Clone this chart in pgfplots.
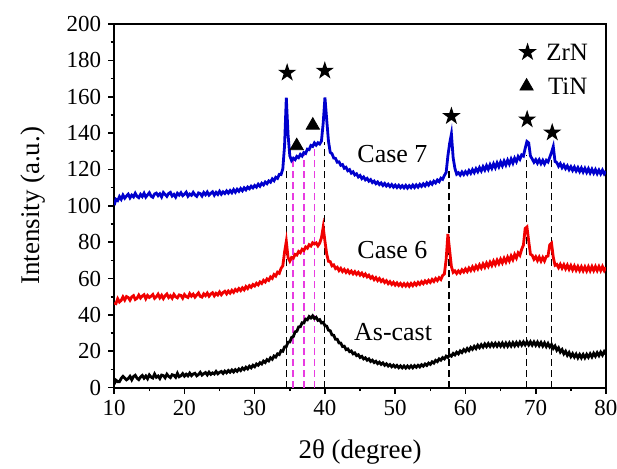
\documentclass[border=0pt]{standalone}
\usepackage{fontspec}
\setmainfont{Liberation Serif}
\usepackage{pgfplots}
\usepackage{pgfplotstable}
\pgfplotsset{compat=1.18}
\definecolor{cblue}{RGB}{0,0,205}
\definecolor{cred}{RGB}{240,0,0}
\definecolor{cmag}{RGB}{232,60,225}

\pgfdeclareplotmark{fstar}{%
  \pgfpathmoveto{\pgfpointpolar{90}{\pgfplotmarksize}}%
  \pgfpathlineto{\pgfpointpolar{126}{0.382\pgfplotmarksize}}%
  \pgfpathlineto{\pgfpointpolar{162}{\pgfplotmarksize}}%
  \pgfpathlineto{\pgfpointpolar{198}{0.382\pgfplotmarksize}}%
  \pgfpathlineto{\pgfpointpolar{234}{\pgfplotmarksize}}%
  \pgfpathlineto{\pgfpointpolar{270}{0.382\pgfplotmarksize}}%
  \pgfpathlineto{\pgfpointpolar{306}{\pgfplotmarksize}}%
  \pgfpathlineto{\pgfpointpolar{342}{0.382\pgfplotmarksize}}%
  \pgfpathlineto{\pgfpointpolar{18}{\pgfplotmarksize}}%
  \pgfpathlineto{\pgfpointpolar{54}{0.382\pgfplotmarksize}}%
  \pgfpathclose\pgfusepathqfill}

% x, As-cast, Case 6, Case 7
\pgfplotstableread{
x a b c
10.00 1.9 46.5 100.4
10.25 4.1 46.2 103.6
10.50 3.3 48.9 102.9
10.75 3.3 47.1 105.1
11.00 5.1 48.0 103.6
11.25 6.2 49.9 105.9
11.50 5.2 48.2 104.2
11.75 4.3 50.1 105.4
12.00 5.0 49.6 106.4
12.25 6.2 48.1 104.4
12.50 4.3 49.9 105.9
12.75 6.1 50.6 104.9
13.00 6.8 48.5 106.9
13.25 5.2 49.2 105.2
13.50 4.4 50.9 104.5
13.75 5.8 49.3 106.3
14.00 6.7 50.4 105.1
14.25 5.2 51.1 106.9
14.50 6.4 48.9 104.8
14.75 4.9 50.7 106.0
15.00 7.0 49.6 107.2
15.25 5.8 50.3 105.3
15.50 5.3 51.2 104.7
15.75 7.5 49.1 106.5
16.00 5.7 50.0 107.0
16.25 6.4 51.4 105.6
16.50 5.0 49.4 106.6
16.75 6.9 50.8 104.9
17.00 6.6 49.0 107.3
17.25 5.4 50.5 106.2
17.50 7.4 51.5 105.2
17.75 6.2 49.6 106.8
18.00 5.5 50.6 107.4
18.25 7.1 49.2 105.4
18.50 6.8 51.3 106.3
18.75 5.7 50.0 104.8
19.00 7.9 49.4 106.9
19.25 6.0 51.0 105.9
19.50 6.5 50.7 107.2
19.75 7.7 49.2 105.6
20.00 6.3 51.2 106.4
20.25 7.4 50.1 107.5
20.50 6.5 49.6 105.3
20.75 8.0 51.7 106.5
21.00 6.6 50.3 105.8
21.25 7.5 51.4 107.4
21.50 7.9 49.8 106.0
21.75 6.5 51.0 105.2
22.00 7.2 52.1 107.1
22.25 8.4 50.2 106.7
22.50 6.9 49.8 105.4
22.75 7.7 51.6 107.3
23.00 8.3 50.6 106.1
23.25 7.0 52.0 107.6
23.50 8.5 50.3 105.9
23.75 7.3 51.5 106.9
24.00 8.1 52.2 107.7
24.25 7.5 50.5 105.9
24.50 8.9 51.9 107.4
24.75 7.6 51.0 106.3
25.00 8.4 52.6 108.0
25.25 8.9 51.1 106.4
25.50 7.8 52.3 107.7
25.75 9.1 53.0 106.8
26.00 8.2 51.6 108.2
26.25 9.4 53.1 107.0
26.50 8.5 52.0 108.4
26.75 9.7 53.5 107.2
27.00 8.6 52.4 108.9
27.25 9.9 54.0 107.5
27.50 9.0 53.1 109.1
27.75 10.3 54.5 108.0
28.00 9.4 53.4 109.5
28.25 10.8 54.9 108.3
28.50 9.9 53.8 109.9
28.75 11.2 55.6 108.8
29.00 10.3 54.5 110.3
29.25 11.8 56.1 109.4
29.50 10.9 55.2 110.8
29.75 12.3 56.7 109.9
30.00 11.5 55.9 111.2
30.25 13.0 57.4 110.3
30.50 12.3 56.5 111.9
30.75 13.7 58.1 110.8
31.00 13.0 57.3 112.4
31.25 14.6 59.0 111.5
31.50 13.8 58.1 113.1
31.75 15.4 59.8 112.2
32.00 14.7 59.0 113.7
32.25 16.4 60.9 113.0
32.50 15.6 60.1 114.8
32.75 17.4 62.2 113.8
33.00 16.8 61.4 115.7
33.25 18.6 63.5 115.1
33.50 18.2 62.9 117.3
33.75 20.3 65.6 117.2
34.00 20.0 67.0 120.3
34.25 22.4 74.5 133.0
34.50 22.6 80.5 159.5
34.75 25.0 71.5 139.0
35.00 25.1 69.6 127.5
35.25 27.6 71.6 124.9
35.50 28.1 71.2 126.2
35.75 30.7 73.3 125.4
36.00 31.0 72.9 127.2
36.25 33.4 74.9 126.5
36.50 33.5 74.2 128.3
36.75 35.7 76.1 127.4
37.00 35.6 75.4 129.3
37.25 37.7 77.4 128.8
37.50 37.3 76.7 131.2
37.75 39.1 78.6 130.9
38.00 38.3 77.9 133.2
38.25 39.5 79.7 132.7
38.50 38.0 79.0 134.6
38.75 38.7 79.6 133.4
39.00 37.0 78.0 134.7
39.25 37.4 79.5 134.0
39.50 35.6 82.4 135.6
39.75 35.9 88.3 145.5
40.00 34.1 80.5 159.6
40.25 33.8 73.5 147.4
40.50 31.6 69.5 135.6
40.75 31.3 69.3 129.4
41.00 29.0 67.0 128.7
41.25 28.8 67.5 126.3
41.50 26.6 65.5 126.1
41.75 26.6 66.2 124.0
42.00 24.6 64.4 124.2
42.25 24.5 65.6 122.3
42.50 22.6 63.9 122.7
42.75 22.8 65.0 120.7
43.00 20.9 63.4 121.2
43.25 21.3 64.6 119.3
43.50 19.8 63.0 119.9
43.75 20.2 64.1 118.0
44.00 18.6 62.6 118.7
44.25 19.1 63.8 117.0
44.50 17.6 62.3 117.6
44.75 18.1 63.4 115.9
45.00 16.6 61.9 116.7
45.25 17.2 63.0 115.0
45.50 15.8 61.4 115.9
45.75 16.4 62.5 114.3
46.00 15.1 60.9 115.1
46.25 15.8 61.8 113.6
46.50 14.4 60.2 114.4
46.75 15.1 61.1 112.8
47.00 13.8 59.4 113.6
47.25 14.5 60.5 112.2
47.50 13.2 58.9 113.1
47.75 14.0 60.0 111.7
48.00 12.8 58.4 112.6
48.25 13.6 59.4 111.2
48.50 12.3 57.8 112.3
48.75 13.1 58.8 110.9
49.00 11.9 57.2 111.9
49.25 12.7 58.3 110.6
49.50 11.5 56.8 111.7
49.75 12.4 57.9 110.3
50.00 11.3 56.4 111.4
50.25 12.2 57.6 110.1
50.50 11.0 56.2 111.3
50.75 12.0 57.3 110.0
51.00 10.9 55.9 111.1
51.25 11.9 57.2 109.9
51.50 10.8 55.9 111.2
51.75 11.9 57.2 109.8
52.00 10.9 55.8 111.1
52.25 12.0 57.3 110.0
52.50 10.9 56.1 111.4
52.75 12.1 57.6 110.1
53.00 11.2 56.4 111.5
53.25 12.3 57.9 110.3
53.50 11.4 56.8 111.8
53.75 12.6 58.3 110.7
54.00 11.8 57.2 112.1
54.25 13.0 58.7 111.0
54.50 12.2 57.6 112.6
54.75 13.5 59.0 111.4
55.00 12.8 57.9 113.0
55.25 14.2 59.5 111.9
55.50 13.5 58.4 113.6
55.75 15.0 60.0 112.6
56.00 14.3 58.9 114.2
56.25 15.8 60.5 113.3
56.50 15.1 59.5 115.2
56.75 16.5 61.7 114.6
57.00 15.8 62.5 116.7
57.25 17.3 70.5 118.4
57.50 16.6 84.5 127.5
57.75 18.0 75.4 134.4
58.00 17.3 66.6 139.5
58.25 18.8 63.4 126.4
58.50 18.0 64.2 120.6
58.75 19.5 62.8 117.4
59.00 18.6 64.2 118.2
59.25 20.2 63.1 116.9
59.50 19.3 64.8 118.6
59.75 20.9 63.6 117.2
60.00 19.9 65.3 118.8
60.25 21.5 63.9 117.5
60.50 20.4 65.8 119.4
60.75 22.1 64.4 117.9
61.00 21.1 66.4 119.9
61.25 22.7 64.8 118.3
61.50 21.5 66.9 120.4
61.75 23.3 65.3 118.8
62.00 22.0 67.5 121.0
62.25 23.6 65.8 119.2
62.50 22.3 68.0 121.5
62.75 24.0 66.2 119.7
63.00 22.6 68.5 122.1
63.25 24.2 66.7 120.1
63.50 22.7 69.0 122.6
63.75 24.3 67.2 120.6
64.00 22.8 69.6 123.1
64.25 24.4 67.7 121.0
64.50 22.8 70.1 123.6
64.75 24.4 68.2 121.5
65.00 22.8 70.6 124.1
65.25 24.5 68.6 122.0
65.50 22.7 71.1 124.6
65.75 24.5 69.1 122.5
66.00 22.8 71.7 125.1
66.25 24.6 69.7 123.0
66.50 22.9 72.4 125.7
66.75 24.7 70.4 123.5
67.00 23.0 73.2 126.2
67.25 24.8 71.3 124.3
67.50 23.2 74.1 127.1
67.75 25.0 72.8 125.6
68.00 23.4 76.1 128.0
68.25 25.1 78.4 127.4
68.50 23.5 87.6 131.6
68.75 25.2 88.4 135.4
69.00 23.5 80.6 134.6
69.25 25.2 73.4 127.4
69.50 23.4 72.8 125.8
69.75 25.1 70.6 124.0
70.00 23.3 72.0 125.4
70.25 25.0 69.9 123.5
70.50 23.1 71.8 125.3
70.75 24.8 69.6 123.2
71.00 22.9 71.6 125.0
71.25 24.6 69.7 123.0
71.50 22.6 72.1 125.0
71.75 24.3 72.4 124.1
72.00 22.4 78.6 126.7
72.25 23.7 79.5 129.4
72.50 21.6 71.7 132.6
72.75 22.9 67.3 124.4
73.00 20.6 67.8 123.8
73.25 21.9 66.0 121.8
73.50 19.6 67.8 123.2
73.75 20.9 65.7 121.0
74.00 18.6 67.6 122.5
74.25 20.0 65.4 120.5
74.50 17.8 67.4 122.0
74.75 19.3 65.1 119.9
75.00 17.1 67.1 121.5
75.25 18.7 64.8 119.5
75.50 16.8 66.9 121.3
75.75 18.4 64.6 119.2
76.00 16.4 66.6 121.0
76.25 18.2 64.4 118.9
76.50 16.4 66.5 120.8
76.75 18.2 64.3 118.6
77.00 16.4 66.4 120.6
77.25 18.3 64.2 118.4
77.50 16.7 66.5 120.4
77.75 18.6 64.3 118.1
78.00 16.9 66.6 120.1
78.25 18.9 64.4 118.0
78.50 17.3 66.6 119.9
78.75 19.2 64.4 117.7
79.00 17.6 66.6 119.6
79.25 19.5 64.4 117.6
79.50 17.9 66.6 119.6
79.75 19.8 64.4 117.6
80.00 18.4 66.2 119.0
}\xrd

\begin{document}
\begin{tikzpicture}
\begin{axis}[
  scale only axis,
  width=245.5bp, height=181.5bp,
  xmin=10, xmax=80, ymin=0, ymax=200,
  xtick={10,20,...,80}, ytick={0,20,...,200},
  minor x tick num=1, minor y tick num=1,
  tick align=outside, xtick pos=left, ytick pos=left,
  major tick length=3bp, minor tick length=1.8bp,
  axis line style={line width=0.9bp},
  every tick/.style={black, line width=0.8bp},
  tick label style={font=\rmfamily\fontsize{11.5}{13}\selectfont},
  /pgf/number format/assume math mode=true,
  label style={font=\rmfamily\fontsize{13.5}{15}\selectfont},
  xlabel={2θ (degree)}, ylabel={Intensity (a.u.)},
  xlabel style={at={(axis description cs:0.5,-0.196)}, anchor=base},
  ylabel style={at={(axis description cs:-0.165,0.5)}, anchor=center},
]
% reference lines
\addplot[black, line width=0.6bp, dash pattern=on 3.5bp off 2bp] coordinates {(34.48,0) (34.48,120)};
\addplot[black, line width=0.6bp, dash pattern=on 3.5bp off 2bp] coordinates {(39.98,0) (39.98,135)};
\addplot[black, line width=0.6bp, dash pattern=on 3.5bp off 2bp] coordinates {(57.66,0) (57.66,120)};
\addplot[black, line width=0.6bp, dash pattern=on 3.5bp off 2bp] coordinates {(68.74,0) (68.74,128)};
\addplot[black, line width=0.6bp, dash pattern=on 3.5bp off 2bp] coordinates {(72.26,0) (72.26,126)};
\addplot[cmag, line width=0.75bp, dash pattern=on 3.5bp off 2bp] coordinates {(35.48,0) (35.48,125)};
\addplot[cmag, line width=0.75bp, dash pattern=on 3.5bp off 2bp] coordinates {(36.99,0) (36.99,128)};
\addplot[cmag, line width=0.75bp, dash pattern=on 3.5bp off 2bp] coordinates {(38.51,0) (38.51,133)};
% patterns
\addplot[black, line width=1.4bp] table[x=x, y=a] {\xrd};
\addplot[cred, line width=1.4bp] table[x=x, y=b] {\xrd};
\addplot[cblue, line width=1.4bp] table[x=x, y=c] {\xrd};
% phase markers
\addplot[only marks, black, mark=fstar, mark size=4.8bp] coordinates {
  (34.62,173.2) (39.98,174.3) (58.0,149.3) (68.78,147.5) (72.35,140.3) (68.84,184.5)};
\addplot[only marks, black, mark=triangle*, mark size=3.8bp] coordinates {
  (35.98,133.0) (38.27,144.3) (68.7,165.8)};
\node[anchor=west, inner sep=0pt, font=\rmfamily\fontsize{12.5}{14}\selectfont] at (axis cs:71.45,184.5) {ZrN};
\node[anchor=west, inner sep=0pt, font=\rmfamily\fontsize{12.5}{14}\selectfont] at (axis cs:71.7,165.8) {TiN};
\node[anchor=base, font=\rmfamily\fontsize{13}{15}\selectfont] at (axis cs:49.6,124.1) {Case 7};
\node[anchor=base, font=\rmfamily\fontsize{13}{15}\selectfont] at (axis cs:49.6,70.9) {Case 6};
\node[anchor=base, font=\rmfamily\fontsize{13}{15}\selectfont] at (axis cs:49.7,25.9) {As-cast};
\end{axis}
\pgfresetboundingbox
\path[use as bounding box] (-57bp,-40.5bp) rectangle (251bp,193.5bp);
\end{tikzpicture}
\end{document}
